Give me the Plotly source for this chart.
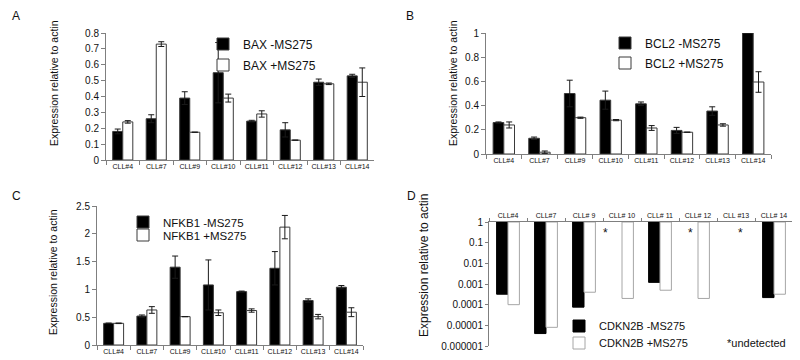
import plotly.graph_objects as go

# ---------------- data ----------------
cats = ["CLL#4", "CLL#7", "CLL#9", "CLL#10", "CLL#11", "CLL#12", "CLL#13", "CLL#14"]
cats_d = ["CLL#4", "CLL#7", "CLL# 9", "CLL# 10", "CLL# 11", "CLL# 12", "CLL #13", "CLL# 14"]

bax_minus = [0.18, 0.26, 0.39, 0.55, 0.245, 0.19, 0.49, 0.53]
bax_minus_err = [0.015, 0.025, 0.04, 0.19, 0.005, 0.045, 0.02, 0.01]
bax_plus = [0.24, 0.73, 0.175, 0.39, 0.29, 0.125, 0.48, 0.49]
bax_plus_err = [0.008, 0.015, 0.0, 0.025, 0.02, 0.0, 0.005, 0.09]

bcl2_minus = [0.26, 0.13, 0.50, 0.445, 0.415, 0.195, 0.355, 1.0]
bcl2_minus_err = [0.005, 0.01, 0.11, 0.075, 0.015, 0.025, 0.035, 0.0]
bcl2_plus = [0.24, 0.015, 0.30, 0.28, 0.215, 0.18, 0.24, 0.595]
bcl2_plus_err = [0.025, 0.01, 0.005, 0.005, 0.02, 0.0, 0.01, 0.085]

nfkb1_minus = [0.39, 0.52, 1.40, 1.08, 0.96, 1.38, 0.80, 1.04]
nfkb1_minus_err = [0.005, 0.02, 0.20, 0.45, 0.01, 0.30, 0.03, 0.03]
nfkb1_plus = [0.39, 0.63, 0.51, 0.58, 0.62, 2.12, 0.51, 0.59]
nfkb1_plus_err = [0.005, 0.06, 0.0, 0.05, 0.03, 0.21, 0.04, 0.08]

# None = undetected
cdkn2b_minus = [3.2e-4, 4.0e-6, 7.6e-5, None, 1.2e-3, None, None, 2.2e-4]
cdkn2b_plus = [1.0e-4, 8.0e-6, 4.0e-4, 2.0e-4, 5.0e-4, 2.0e-4, None, 3.2e-4]

log_ticks = [1, 0.1, 0.01, 0.001, 0.0001, 0.00001, 0.000001]
log_ticktext = ["1", "0.1", "0.01", "0.001", "0.0001", "0.00001", "0.000001"]

# ---------------- styling ----------------
FONT = "Liberation Sans, Arial, sans-serif"
OFF = 8                      # default page body margin
W, H = 800 - OFF, 360 - OFF  # figure size so that it ends at the window edge
AX = "#7f7f7f"
EDGE = "#3a3a3a"
ERR = "#1a1a1a"
BW = 0.3


def px_x(p):
    """window pixel -> paper fraction"""
    return (p - OFF) / W


def px_y(p):
    return 1 - (p - OFF) / H


fig = go.Figure()


def add_pair(xa, ya, minus, minus_err, plus, plus_err, name_m, name_p, lg_m, lg_p):
    fig.add_trace(go.Bar(
        x=cats, y=minus, name=name_m, xaxis=xa, yaxis=ya, legend=lg_m, showlegend=True,
        width=BW, offset=-BW,
        marker=dict(color="black", line=dict(color=EDGE, width=1)),
        error_y=dict(type="data", array=minus_err, color=ERR, thickness=1, width=3),
    ))
    fig.add_trace(go.Bar(
        x=cats, y=plus, name=name_p, xaxis=xa, yaxis=ya, legend=lg_p, showlegend=True,
        width=BW, offset=0,
        marker=dict(color="white", line=dict(color=EDGE, width=1)),
        error_y=dict(type="data", array=plus_err, color=ERR, thickness=1, width=3),
    ))


add_pair("x", "y", bax_minus, bax_minus_err, bax_plus, bax_plus_err,
         "BAX -MS275", "BAX +MS275", "legend", "legend2")
add_pair("x2", "y2", bcl2_minus, bcl2_minus_err, bcl2_plus, bcl2_plus_err,
         "BCL2 -MS275", "BCL2 +MS275", "legend3", "legend4")
add_pair("x3", "y3", nfkb1_minus, nfkb1_minus_err, nfkb1_plus, nfkb1_plus_err,
         "NFKB1 -MS275", "NFKB1 +MS275", "legend5", "legend6")

# panel D: bars hanging down from 1 on a log axis
fig.add_trace(go.Bar(
    x=cats_d, y=[(v - 1) if v is not None else None for v in cdkn2b_minus], base=1,
    name="CDKN2B -MS275", xaxis="x4", yaxis="y4", legend="legend7", showlegend=True,
    width=BW, offset=-BW,
    marker=dict(color="black", line=dict(color="black", width=1)),
))
fig.add_trace(go.Bar(
    x=cats_d, y=[(v - 1) if v is not None else None for v in cdkn2b_plus], base=1,
    name="CDKN2B +MS275", xaxis="x4", yaxis="y4", legend="legend8", showlegend=True,
    width=BW, offset=0,
    marker=dict(color="white", line=dict(color="#a6a6a6", width=1)),
))

tickfont = dict(family=FONT, size=10, color="#111")
catfont = dict(family=FONT, size=7, color="#111")


def xaxis_cfg(dom_px, cat_list, side="bottom", anchor="y"):
    return dict(domain=[px_x(dom_px[0]), px_x(dom_px[1])], anchor=anchor,
                type="category", categoryorder="array", categoryarray=cat_list,
                showline=True, linecolor=AX, linewidth=1,
                ticks="outside", tickson="boundaries", ticklen=4, tickcolor=AX,
                tickfont=catfont, tickangle=0, showgrid=False, zeroline=False, side=side,
                automargin=False, fixedrange=True)


def yaxis_cfg(dom_px, rng, dtick, anchor):
    return dict(domain=[px_y(dom_px[1]), px_y(dom_px[0])], anchor=anchor,
                range=rng, dtick=dtick, showline=True, linecolor=AX, linewidth=1,
                ticks="outside", ticklen=4, tickcolor=AX, tickfont=tickfont,
                showgrid=False, zeroline=False, automargin=False, fixedrange=True)


layout = dict(
    width=W, height=H,
    margin=dict(l=0, r=0, t=0, b=0),
    paper_bgcolor="white", plot_bgcolor="white",
    font=dict(family=FONT, color="#111"),
    barmode="overlay",
    showlegend=True,
    xaxis=xaxis_cfg((106, 374), cats, anchor="y"),
    yaxis=yaxis_cfg((33, 160), [0, 0.8], 0.1, "x"),
    xaxis2=xaxis_cfg((486, 771), cats, anchor="y2"),
    yaxis2=yaxis_cfg((33, 154), [0, 1], 0.2, "x2"),
    xaxis3=xaxis_cfg((97, 363), cats, anchor="y3"),
    yaxis3=yaxis_cfg((206, 345), [0, 2.5], 0.5, "x3"),
    xaxis4=xaxis_cfg((489, 793), cats_d, side="top", anchor="y4"),
    yaxis4=dict(domain=[px_y(346), px_y(222)], anchor="x4", type="log", range=[-6, 0],
                tickvals=log_ticks, ticktext=log_ticktext,
                showline=True, linecolor=AX, linewidth=1,
                ticks="outside", ticklen=3, tickcolor=AX,
                tickfont=dict(family=FONT, size=10, color="#111"),
                showgrid=False, zeroline=False, automargin=False, fixedrange=True),
)
layout["xaxis4"]["ticklen"] = 3
layout["xaxis4"]["tickfont"] = dict(family=FONT, size=7, color="#111")


def legend_cfg(text_x, row_y, size):
    return dict(x=px_x(text_x - 40), y=px_y(row_y), xanchor="left", yanchor="middle",
                bgcolor="rgba(0,0,0,0)", borderwidth=0,
                font=dict(family=FONT, size=size, color="#111"))


layout["legend"] = legend_cfg(243, 44, 12)
layout["legend2"] = legend_cfg(243, 65, 12)
layout["legend3"] = legend_cfg(645, 43, 12)
layout["legend4"] = legend_cfg(645, 63, 12)
layout["legend5"] = legend_cfg(163, 222, 11.5)
layout["legend6"] = legend_cfg(163, 235, 11.5)
layout["legend7"] = legend_cfg(599, 326, 11)
layout["legend8"] = legend_cfg(599, 343, 11)

fig.update_layout(**layout)

# panel letters
for letter, xp, yp in [("A", 10, 16), ("B", 404, 16), ("C", 10, 196), ("D", 405, 196)]:
    fig.add_annotation(text=letter, x=px_x(xp), y=px_y(yp), xref="paper", yref="paper",
                       showarrow=False, xanchor="left", yanchor="middle",
                       font=dict(family=FONT, size=12, color="#111"))

# y-axis titles
for xp, yp, size in [(54, 83, 10.5), (453, 83, 10.5), (53, 272, 10.5), (424, 266, 12)]:
    fig.add_annotation(text="Expression relative to actin", textangle=-90,
                       x=px_x(xp), y=px_y(yp), xref="paper", yref="paper",
                       showarrow=False, xanchor="center", yanchor="middle",
                       font=dict(family=FONT, size=size, color="#111"))

# undetected markers (panel D)
for xi in [3 - 0.43, 5 - 0.21, 6 + 0.12]:
    fig.add_annotation(text="*", x=xi, y=-0.52, xref="x4", yref="y4", showarrow=False,
                       font=dict(family=FONT, size=12, color="#111"))
fig.add_annotation(text="*undetected", x=px_x(725), y=px_y(343), xref="paper", yref="paper",
                   showarrow=False, xanchor="left", yanchor="middle",
                   font=dict(family=FONT, size=11, color="#111"))

fig.write_html("out.html")
